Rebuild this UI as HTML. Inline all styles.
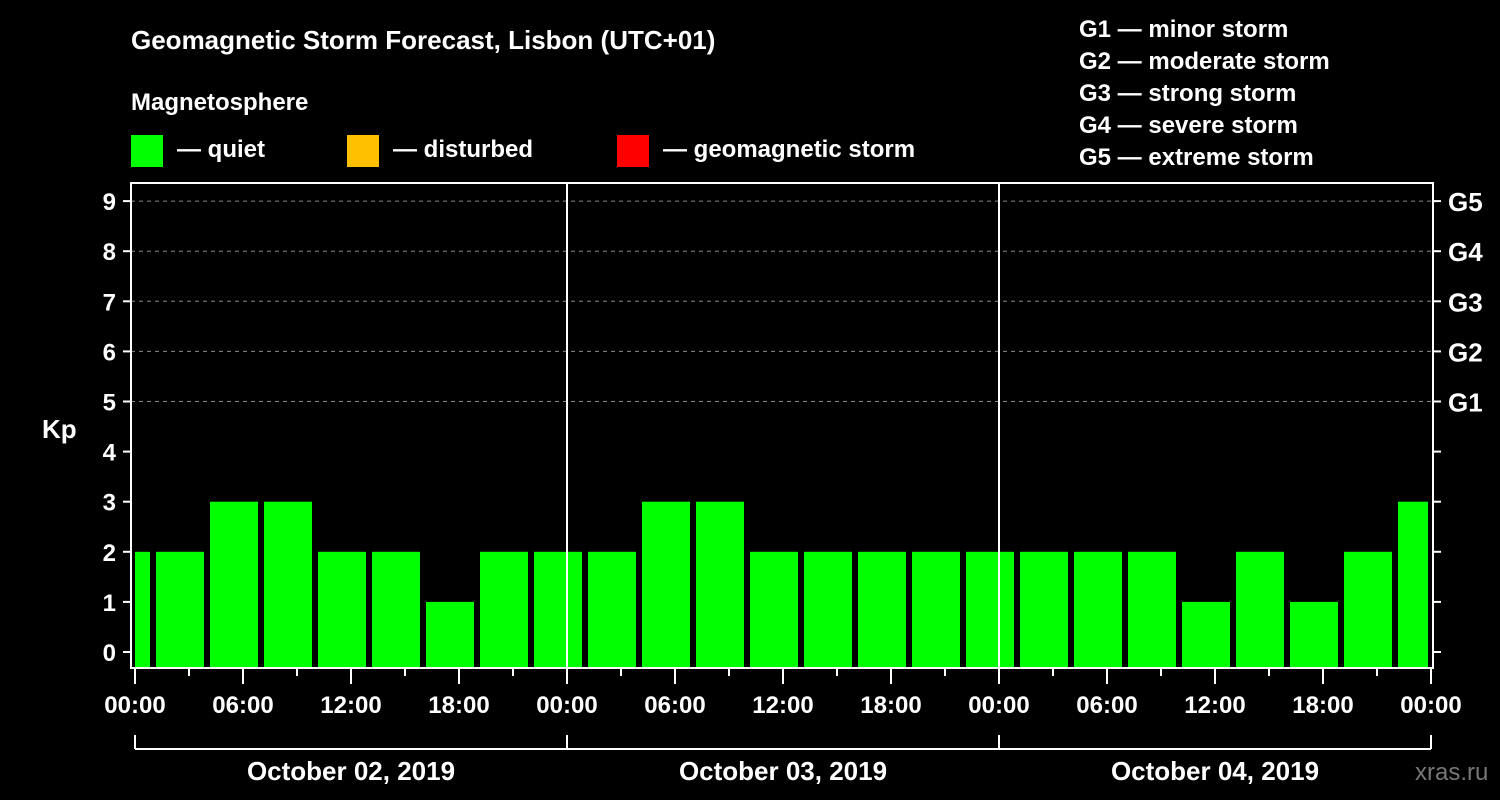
<!DOCTYPE html>
<html><head><meta charset="utf-8"><style>
body{margin:0;background:#000;width:1500px;height:800px;overflow:hidden}
svg{display:block;font-family:"Liberation Sans",Arial,sans-serif;font-weight:bold}
</style></head><body>
<svg id="c" width="1500" height="800">
<text x="131" y="49" fill="#fff" font-size="26">Geomagnetic Storm Forecast, Lisbon (UTC+01)</text>
<text x="131" y="110" fill="#fff" font-size="24">Magnetosphere</text>
<g><rect x="131" y="135" width="32" height="32" fill="#00ff00"/><text x="177" y="157" fill="#fff" font-size="24">— quiet</text></g>
<g><rect x="347" y="135" width="32" height="32" fill="#ffc000"/><text x="393" y="157" fill="#fff" font-size="24">— disturbed</text></g>
<g><rect x="617" y="135" width="32" height="32" fill="#ff0000"/><text x="663" y="157" fill="#fff" font-size="24">— geomagnetic storm</text></g>
<g fill="#fff" font-size="24">
<text x="1079" y="37">G1 — minor storm</text><text x="1079" y="69">G2 — moderate storm</text><text x="1079" y="101">G3 — strong storm</text><text x="1079" y="133">G4 — severe storm</text><text x="1079" y="165">G5 — extreme storm</text></g>
<text x="42" y="438" fill="#fff" font-size="26">Kp</text>
<text x="1415" y="780" fill="#777" font-size="24" font-weight="normal">xras.ru</text>
<g id="grid"></g><g id="bars"></g><g id="axes"></g>
</svg>
<script>
const kpValues=[2,2,3,3,2,2,1,2,2,2,3,3,2,2,2,2,2,2,2,2,1,2,1,2,3];
const slotStartHours=[-2,1,4,7,10,13,16,19,22,25,28,31,34,37,40,43,46,49,52,55,58,61,64,67,70];
const dayLabels=["October 02, 2019","October 03, 2019","October 04, 2019"];
const hourTicks=["00:00","06:00","12:00","18:00"];
const gLabels=["G1","G2","G3","G4","G5"];
const NS="http://www.w3.org/2000/svg";
const X0=135,PH=18,XMAX=1431,L=131,R=1433,T=183,B=668;
const xs=h=>X0+h*PH, ys=v=>652-v*50.1;
function mk(tag,attrs,parent,text){const e=document.createElementNS(NS,tag);for(const k in attrs)e.setAttribute(k,attrs[k]);if(text!==undefined)e.textContent=text;document.getElementById(parent).appendChild(e);return e;}
for(let v=5;v<=9;v++){const g=mk('line',{x1:L,x2:R,y1:ys(v),y2:ys(v),stroke:'#888','stroke-dasharray':'4,4','stroke-width':1},'grid');

}
kpValues.forEach((v,i)=>{let a=Math.max(xs(slotStartHours[i])+3,X0),b=Math.min(xs(slotStartHours[i]+3)-3,XMAX-3);
const r=mk('rect',{x:a,y:ys(v),width:b-a,height:B-1-ys(v),fill:'#00ff00'},'bars');

});
const fr=mk('rect',{x:L,y:T,width:R-L,height:B-T,fill:'none',stroke:'#fff','stroke-width':2},'axes');


for(let d=1;d<3;d++){const l=mk('line',{x1:xs(24*d),x2:xs(24*d),y1:T,y2:B,stroke:'#fff','stroke-width':2},'axes');

}
for(let v=0;v<=9;v++){const y=ys(v);
mk('line',{x1:L-8,x2:L,y1:y,y2:y,stroke:'#fff','stroke-width':2},'axes');
mk('line',{x1:R,x2:R+8,y1:y,y2:y,stroke:'#fff','stroke-width':2},'axes');
const t=mk('text',{x:116,y:y+9,fill:'#fff','font-size':24,'text-anchor':'end'},'axes',String(v));


if(v>=5){const g=mk('text',{x:1448,y:y+10,fill:'#fff','font-size':26},'axes',gLabels[v-5]);

}}
for(let h=0;h<=72;h+=3){const x=xs(h),maj=h%6==0;
mk('line',{x1:x,x2:x,y1:B,y2:B+(maj?16:8),stroke:'#fff','stroke-width':2},'axes');
if(maj){const t=mk('text',{x:x,y:713,fill:'#fff','font-size':24,'text-anchor':'middle'},'axes',hourTicks[(h%24)/6]);

}}
mk('line',{x1:X0,x2:XMAX,y1:749,y2:749,stroke:'#fff','stroke-width':2},'axes');
for(let d=0;d<=3;d++)mk('line',{x1:xs(24*d),x2:xs(24*d),y1:735,y2:749,stroke:'#fff','stroke-width':2},'axes');
dayLabels.forEach((s,d)=>{const t=mk('text',{x:xs(24*d+12),y:780,fill:'#fff','font-size':26,'text-anchor':'middle'},'axes',s);

});
</script>
</body></html>
